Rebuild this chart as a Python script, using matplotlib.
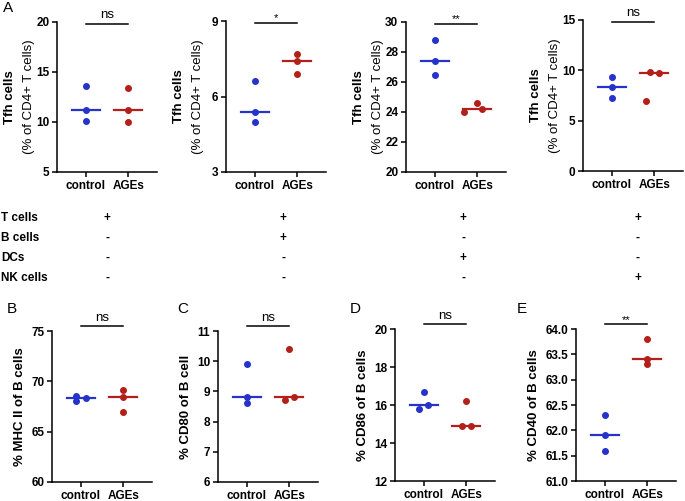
import numpy as np
import matplotlib
matplotlib.use('Agg')
import matplotlib.pyplot as plt

plt.rcParams['font.family'] = ['Liberation Sans', 'DejaVu Sans']

groups = ['control', 'AGEs']

# panel A: Tfh cells in four co-culture settings
a_control = [[13.6, 11.2, 10.1], [6.6, 5.4, 5.0], [28.8, 27.4, 26.5], [9.3, 8.3, 7.3]]
a_ages = [[13.4, 11.2, 10.0], [7.7, 7.4, 6.9], [24.6, 24.2, 24.0], [9.8, 9.7, 7.0]]
a_sig = ['ns', '*', '**', 'ns']
a_ylim = [(5, 20), (3, 9), (20, 30), (0, 15)]
a_ticks = [[5, 10, 15, 20], [3, 6, 9], [20, 22, 24, 26, 28, 30], [0, 5, 10, 15]]

# co-culture table under panel A
table_rows = ['T cells', 'B cells', 'DCs', 'NK cells']
table_signs = [['+', '-', '-', '-'],
               ['+', '+', '-', '-'],
               ['+', '-', '+', '-'],
               ['+', '-', '-', '+']]

# panels B-E: B cell markers
b_names = ['B', 'C', 'D', 'E']
b_ylabels = ['% MHC II of B cells', '% CD80 of B cell', '% CD86 of B cells', '% CD40 of B cells']
b_control = [[68.5, 68.0, 68.3], [9.9, 8.8, 8.6], [16.7, 15.8, 16.0], [62.3, 61.9, 61.6]]
b_ages = [[69.1, 68.4, 67.0], [10.4, 8.7, 8.8], [16.2, 14.9, 14.9], [63.8, 63.4, 63.3]]
b_sig = ['ns', 'ns', 'ns', '**']
b_ylim = [(60, 75), (6, 11), (12, 20), (61, 64)]
b_ticks = [[60, 65, 70, 75], [6, 7, 8, 9, 10, 11], [12, 14, 16, 18, 20],
           [61.0, 61.5, 62.0, 62.5, 63.0, 63.5, 64.0]]

BLUE = '#2633c8'
RED = '#b3201a'

# small horizontal offsets so overlapping dots are visible
a_jit_c = [[0, 0, 0], [0, 0, 0], [0, 0, 0], [0, 0, 0]]
a_jit_a = [[0, 0, 0], [0, 0, 0], [0, 0.12, -0.32], [-0.1, 0.12, -0.2]]
b_jit_c = [[-0.1, -0.1, 0.12], [0, 0, 0], [0, -0.1, 0.1], [0, 0, 0]]
b_jit_a = [[0, 0, 0], [0, -0.1, 0.1], [0, -0.1, 0.1], [0, 0, 0]]

W, H = 685, 501
fig = plt.figure(figsize=(W / 100, H / 100), dpi=100)


def px_axes(left, top, bottom, width=100):
    return fig.add_axes([left / W, 1 - bottom / H, width / W, (bottom - top) / H])


def draw_panel(ax, ctrl, ages, jc, ja, ylim, ticks, sig, bar_y, fmt=None):
    for i, (vals, jit, col) in enumerate([(ctrl, jc, BLUE), (ages, ja, RED)]):
        xs = [i + j for j in jit]
        ax.scatter(xs, vals, s=16, color=col, zorder=3, clip_on=False)
        m = np.median(vals)
        ax.plot([i - 0.33, i + 0.33], [m, m], color=col, lw=1.6, zorder=2)
    ax.set_xlim(-0.67, 1.67)
    ax.set_ylim(*ylim)
    ax.set_yticks(ticks)
    if fmt:
        ax.set_yticklabels([fmt % t for t in ticks])
    ax.set_xticks([0, 1])
    ax.set_xticklabels(groups)
    for s in ['top', 'right']:
        ax.spines[s].set_visible(False)
    for s in ['left', 'bottom']:
        ax.spines[s].set_linewidth(1.1)
    ax.tick_params(width=1.1, length=3.5, labelsize=8.5, pad=2)
    for lab in ax.get_xticklabels() + ax.get_yticklabels():
        lab.set_fontweight('bold')
    ax.plot([0, 1], [bar_y, bar_y], transform=ax.get_xaxis_transform(),
            color='black', lw=1.1, clip_on=False)
    if sig == 'ns':
        ax.text(0.5, bar_y + 0.015, sig, transform=ax.get_xaxis_transform(),
                ha='center', va='bottom', fontsize=9.5)
    else:
        ax.text(0.5, bar_y - 0.005, sig, transform=ax.get_xaxis_transform(),
                ha='center', va='bottom', fontsize=8)


# top row
a_lefts = [57, 226, 406, 583]
a_tops = [22, 21, 22, 20]
a_bottoms = [172, 172, 172, 171]
for k in range(4):
    ax = px_axes(a_lefts[k], a_tops[k], a_bottoms[k])
    draw_panel(ax, a_control[k], a_ages[k], a_jit_c[k], a_jit_a[k],
               a_ylim[k], a_ticks[k], a_sig[k], 0.99)
    ax.text(-0.47, 0.5, 'Tfh cells', transform=ax.transAxes, rotation=90,
            ha='center', va='center', fontsize=9.5, fontweight='bold')
    ax.text(-0.28, 0.5, '(% of CD4+ T cells)', transform=ax.transAxes, rotation=90,
            ha='center', va='center', fontsize=9.5)

fig.text(3 / W, 1 - 8 / H, 'A', fontsize=11, va='center', ha='left')

# table
col_x = [107, 283, 463, 638]
row_y = [218, 238, 258, 278]
for r, name in enumerate(table_rows):
    fig.text(1 / W, 1 - row_y[r] / H, name, fontsize=8.5, fontweight='bold',
             va='center', ha='left')
    for c in range(4):
        fig.text(col_x[c] / W, 1 - row_y[r] / H, table_signs[c][r], fontsize=8.5,
                 fontweight='bold', va='center', ha='center')

# bottom row
b_lefts = [52, 218, 395, 576]
b_tops = [331, 331, 329, 329]
b_bottoms = [482, 482, 481, 481]
b_label_x = [7, 177, 350, 517]
for k in range(4):
    ax = px_axes(b_lefts[k], b_tops[k], b_bottoms[k])
    draw_panel(ax, b_control[k], b_ages[k], b_jit_c[k], b_jit_a[k],
               b_ylim[k], b_ticks[k], b_sig[k], 1.03,
               fmt='%.1f' if k == 3 else None)
    ax.set_ylabel(b_ylabels[k], fontsize=9.5, fontweight='bold', labelpad=4)
    fig.text(b_label_x[k] / W, 1 - 309 / H, b_names[k], fontsize=11,
             va='center', ha='left')

fig.savefig('out.png', dpi=100)
